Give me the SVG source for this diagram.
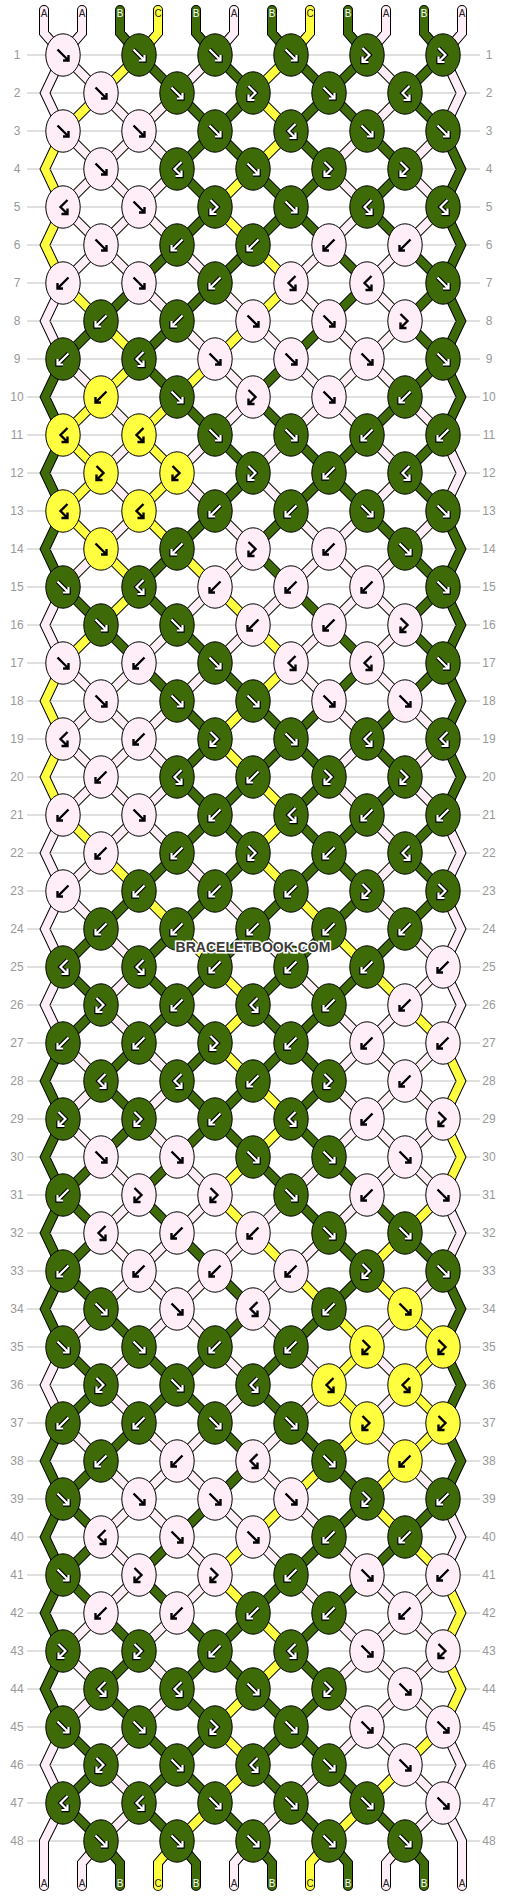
<svg xmlns="http://www.w3.org/2000/svg" width="506" height="1896" viewBox="0 0 506 1896">
<style>
.gl{fill:none;stroke:#c0c0c0;stroke-width:1}
.rn{font-family:"Liberation Sans",Arial,sans-serif;font-size:12px;fill:#999;text-anchor:middle}
.so{fill:none;stroke:#000;stroke-width:10}
.sg,.sp,.sy{fill:none;stroke-width:8}
.sg{stroke:#3f6a08}.sp{stroke:#ffeef8}.sy{stroke:#ffff40}
.eo{fill:none;stroke:#000;stroke-width:10;stroke-linecap:round;stroke-linejoin:miter}
.eg,.ep,.ey{fill:none;stroke-width:8;stroke-linecap:round;stroke-linejoin:miter}
.eg{stroke:#3f6a08}.ep{stroke:#ffeef8}.ey{stroke:#ffff40}
.kg{fill:#3f6a08;stroke:#000;stroke-width:1}
.kp{fill:#ffeef8;stroke:#000;stroke-width:1}
.ky{fill:#ffff40;stroke:#000;stroke-width:1}
.ao{fill:none;stroke:#000;stroke-width:4.4}
.aw{fill:none;stroke:#fff;stroke-width:2.2}
.ab{fill:none;stroke:#000;stroke-width:2.4}
.lb{font-family:"Liberation Sans",Arial,sans-serif;font-size:10px;text-anchor:middle}
.lw{fill:#fff}.lk{fill:#222}
.wm{font-family:"Liberation Sans",Arial,sans-serif;font-size:14px;font-weight:bold;fill:#3a3a3a;stroke:#fff;stroke-width:3;paint-order:stroke;text-anchor:middle}
</style>
<defs>
<clipPath id="cl"><rect x="63" y="55" width="380" height="1786"/></clipPath>
<path id="lat" d="M0-312l506 506m-506-430l506 506m-506-430l506 506m-506-430l506 506m-506-430l506 506m-506-430l506 506m-506-430l506 506m-506-430l506 506m-506-430l506 506m-506-430l506 506m-506-430l506 506m-506-430l506 506m-506-430l506 506m-506-430l506 506m-506-430l506 506m-506-430l506 506m-506-430l506 506m-506-430l506 506m-506-430l506 506m-506-430l506 506m-506-430l506 506m-506-430l506 506m-506-430l506 506m-506-430l506 506m-506-430l506 506m-506-430l506 506m-506-430l506 506m-506-430l506 506M0 194l506-506m-506 582l506-506m-506 582l506-506m-506 582l506-506m-506 582l506-506m-506 582l506-506m-506 582l506-506m-506 582l506-506m-506 582l506-506m-506 582l506-506m-506 582l506-506m-506 582l506-506m-506 582l506-506m-506 582l506-506m-506 582l506-506m-506 582l506-506m-506 582l506-506m-506 582l506-506m-506 582l506-506m-506 582l506-506m-506 582l506-506m-506 582l506-506m-506 582l506-506m-506 582l506-506m-506 582l506-506m-506 582l506-506m-506 582l506-506m-506 582l506-506"/>
<path id="aF" d="M-5.5-5.5L5.5 5.5M0 5.5H5.5V0"/>
<path id="aB" d="M5.5-5.5L-5.5 5.5M0 5.5H-5.5V0"/>
<path id="aFB" d="M-4.5-7L2.5 0L-4.5 7M-4.5 1.5V7H1.5"/>
<path id="aBF" d="M4.5-7L-2.5 0L4.5 7M4.5 1.5V7H-1.5"/>
<g id="gF"><ellipse class="kg" rx="17.2" ry="21.2"/><use href="#aF" class="ao"/><use href="#aF" class="aw"/></g>
<g id="gB"><ellipse class="kg" rx="17.2" ry="21.2"/><use href="#aB" class="ao"/><use href="#aB" class="aw"/></g>
<g id="gFB"><ellipse class="kg" rx="17.2" ry="21.2"/><use href="#aFB" class="ao"/><use href="#aFB" class="aw"/></g>
<g id="gBF"><ellipse class="kg" rx="17.2" ry="21.2"/><use href="#aBF" class="ao"/><use href="#aBF" class="aw"/></g>
<g id="pF"><ellipse class="kp" rx="17.2" ry="21.2"/><use href="#aF" class="ab"/></g>
<g id="pB"><ellipse class="kp" rx="17.2" ry="21.2"/><use href="#aB" class="ab"/></g>
<g id="pFB"><ellipse class="kp" rx="17.2" ry="21.2"/><use href="#aFB" class="ab"/></g>
<g id="pBF"><ellipse class="kp" rx="17.2" ry="21.2"/><use href="#aBF" class="ab"/></g>
<g id="yF"><ellipse class="ky" rx="17.2" ry="21.2"/><use href="#aF" class="ab"/></g>
<g id="yB"><ellipse class="ky" rx="17.2" ry="21.2"/><use href="#aB" class="ab"/></g>
<g id="yFB"><ellipse class="ky" rx="17.2" ry="21.2"/><use href="#aFB" class="ab"/></g>
<g id="yBF"><ellipse class="ky" rx="17.2" ry="21.2"/><use href="#aBF" class="ab"/></g>
</defs>
<rect width="506" height="1896" fill="#fff"/>
<g id="grid">
<path class="gl" d="M27 55h453m-453 38h453m-453 38h453m-453 38h453m-453 38h453m-453 38h453m-453 38h453m-453 38h453m-453 38h453m-453 38h453m-453 38h453m-453 38h453m-453 38h453m-453 38h453m-453 38h453m-453 38h453m-453 38h453m-453 38h453m-453 38h453m-453 38h453m-453 38h453m-453 38h453m-453 38h453m-453 38h453m-453 38h453m-453 38h453m-453 38h453m-453 38h453m-453 38h453m-453 38h453m-453 38h453m-453 38h453m-453 38h453m-453 38h453m-453 38h453m-453 38h453m-453 38h453m-453 38h453m-453 38h453m-453 38h453m-453 38h453m-453 38h453m-453 38h453m-453 38h453m-453 38h453m-453 38h453m-453 38h453m-453 38h453"/>
<text class="rn"><tspan x="17" y="59">1</tspan><tspan x="17" y="97">2</tspan><tspan x="17" y="135">3</tspan><tspan x="17" y="173">4</tspan><tspan x="17" y="211">5</tspan><tspan x="17" y="249">6</tspan><tspan x="17" y="287">7</tspan><tspan x="17" y="325">8</tspan><tspan x="17" y="363">9</tspan><tspan x="17" y="401">10</tspan><tspan x="17" y="439">11</tspan><tspan x="17" y="477">12</tspan><tspan x="17" y="515">13</tspan><tspan x="17" y="553">14</tspan><tspan x="17" y="591">15</tspan><tspan x="17" y="629">16</tspan><tspan x="17" y="667">17</tspan><tspan x="17" y="705">18</tspan><tspan x="17" y="743">19</tspan><tspan x="17" y="781">20</tspan><tspan x="17" y="819">21</tspan><tspan x="17" y="857">22</tspan><tspan x="17" y="895">23</tspan><tspan x="17" y="933">24</tspan><tspan x="17" y="971">25</tspan><tspan x="17" y="1009">26</tspan><tspan x="17" y="1047">27</tspan><tspan x="17" y="1085">28</tspan><tspan x="17" y="1123">29</tspan><tspan x="17" y="1161">30</tspan><tspan x="17" y="1199">31</tspan><tspan x="17" y="1237">32</tspan><tspan x="17" y="1275">33</tspan><tspan x="17" y="1313">34</tspan><tspan x="17" y="1351">35</tspan><tspan x="17" y="1389">36</tspan><tspan x="17" y="1427">37</tspan><tspan x="17" y="1465">38</tspan><tspan x="17" y="1503">39</tspan><tspan x="17" y="1541">40</tspan><tspan x="17" y="1579">41</tspan><tspan x="17" y="1617">42</tspan><tspan x="17" y="1655">43</tspan><tspan x="17" y="1693">44</tspan><tspan x="17" y="1731">45</tspan><tspan x="17" y="1769">46</tspan><tspan x="17" y="1807">47</tspan><tspan x="17" y="1845">48</tspan></text>
<text class="rn"><tspan x="489" y="59">1</tspan><tspan x="489" y="97">2</tspan><tspan x="489" y="135">3</tspan><tspan x="489" y="173">4</tspan><tspan x="489" y="211">5</tspan><tspan x="489" y="249">6</tspan><tspan x="489" y="287">7</tspan><tspan x="489" y="325">8</tspan><tspan x="489" y="363">9</tspan><tspan x="489" y="401">10</tspan><tspan x="489" y="439">11</tspan><tspan x="489" y="477">12</tspan><tspan x="489" y="515">13</tspan><tspan x="489" y="553">14</tspan><tspan x="489" y="591">15</tspan><tspan x="489" y="629">16</tspan><tspan x="489" y="667">17</tspan><tspan x="489" y="705">18</tspan><tspan x="489" y="743">19</tspan><tspan x="489" y="781">20</tspan><tspan x="489" y="819">21</tspan><tspan x="489" y="857">22</tspan><tspan x="489" y="895">23</tspan><tspan x="489" y="933">24</tspan><tspan x="489" y="971">25</tspan><tspan x="489" y="1009">26</tspan><tspan x="489" y="1047">27</tspan><tspan x="489" y="1085">28</tspan><tspan x="489" y="1123">29</tspan><tspan x="489" y="1161">30</tspan><tspan x="489" y="1199">31</tspan><tspan x="489" y="1237">32</tspan><tspan x="489" y="1275">33</tspan><tspan x="489" y="1313">34</tspan><tspan x="489" y="1351">35</tspan><tspan x="489" y="1389">36</tspan><tspan x="489" y="1427">37</tspan><tspan x="489" y="1465">38</tspan><tspan x="489" y="1503">39</tspan><tspan x="489" y="1541">40</tspan><tspan x="489" y="1579">41</tspan><tspan x="489" y="1617">42</tspan><tspan x="489" y="1655">43</tspan><tspan x="489" y="1693">44</tspan><tspan x="489" y="1731">45</tspan><tspan x="489" y="1769">46</tspan><tspan x="489" y="1807">47</tspan><tspan x="489" y="1845">48</tspan></text>
</g>
<g id="connectors">
<g clip-path="url(#cl)">
<use href="#lat" class="so"/>
<use href="#lat" class="sg"/>
</g>
<path class="sp" d="M63 55l38 38M215 55l-38 38M367 55l38 38M101 93l38 38M177 93l-38 38M405 93l-38 38M63 131l38 38M139 131l-38 38M139 131l38 38M367 131l-38 38M443 131l-38 38M101 169l-38 38M101 169l38 38M177 169l-38 38M329 169l38 38M405 169l38 38M63 207l38 38M139 207l-38 38M139 207l38 38M367 207l-38 38M443 207l-38 38M101 245l-38 38M101 245l38 38M177 245l38 38M329 245l-38 38M405 245l-38 38M139 283l38 38M215 283l38 38M291 283l38 38M367 283l38 38M177 321l38 38M253 321l38 38M329 321l38 38M405 321l-38 38M63 359l38 38M215 359l38 38M291 359l38 38M367 359l-38 38M367 359l38 38M101 397l38 38M253 397l-38 38M329 397l-38 38M329 397l38 38M405 397l38 38M139 435l-38 38M215 435l-38 38M291 435l-38 38M367 435l38 38M101 473l38 38M177 473l38 38M253 473l38 38M405 473l-38 38M139 511l-38 38M215 511l38 38M291 511l38 38M367 511l-38 38M443 511l-38 38M101 549l-38 38M253 549l-38 38M329 549l-38 38M329 549l38 38M405 549l-38 38M215 587l-38 38M291 587l-38 38M367 587l-38 38M367 587l38 38M177 625l-38 38M253 625l-38 38M329 625l-38 38M405 625l-38 38M63 663l38 38M139 663l-38 38M215 663l-38 38M291 663l38 38M367 663l38 38M101 701l-38 38M101 701l38 38M177 701l-38 38M329 701l38 38M405 701l38 38M63 739l38 38M139 739l-38 38M139 739l38 38M367 739l-38 38M443 739l-38 38M101 777l-38 38M101 777l38 38M177 777l-38 38M329 777l38 38M405 777l38 38M139 815l-38 38M139 815l38 38M367 815l38 38M101 853l-38 38M177 853l38 38M405 853l-38 38M63 891l38 38M215 891l38 38M367 891l38 38M101 929l38 38M253 929l38 38M405 929l38 38M139 967l-38 38M291 967l38 38M443 967l-38 38M101 1005l38 38M329 1005l38 38M405 1005l-38 38M63 1043l38 38M139 1043l38 38M367 1043l-38 38M367 1043l38 38M443 1043l-38 38M101 1081l-38 38M177 1081l-38 38M329 1081l38 38M405 1081l-38 38M405 1081l38 38M63 1119l38 38M139 1119l38 38M367 1119l-38 38M367 1119l38 38M443 1119l-38 38M101 1157l38 38M177 1157l38 38M329 1157l-38 38M405 1157l-38 38M405 1157l38 38M139 1195l-38 38M215 1195l-38 38M291 1195l-38 38M367 1195l-38 38M101 1233l38 38M177 1233l-38 38M253 1233l-38 38M329 1233l-38 38M139 1271l-38 38M139 1271l38 38M215 1271l-38 38M291 1271l-38 38M443 1271l-38 38M101 1309l-38 38M177 1309l-38 38M177 1309l38 38M253 1309l38 38M405 1309l-38 38M139 1347l-38 38M215 1347l38 38M291 1347l38 38M367 1347l38 38M101 1385l38 38M253 1385l-38 38M329 1385l-38 38M405 1385l-38 38M63 1423l38 38M139 1423l38 38M215 1423l-38 38M291 1423l-38 38M367 1423l38 38M101 1461l38 38M177 1461l-38 38M177 1461l38 38M253 1461l38 38M405 1461l38 38M139 1499l-38 38M139 1499l38 38M215 1499l38 38M291 1499l38 38M101 1537l38 38M177 1537l38 38M253 1537l38 38M329 1537l38 38M139 1575l-38 38M215 1575l-38 38M291 1575l38 38M367 1575l38 38M443 1575l-38 38M101 1613l-38 38M177 1613l-38 38M329 1613l38 38M405 1613l-38 38M405 1613l38 38M63 1651l38 38M139 1651l38 38M367 1651l-38 38M367 1651l38 38M443 1651l-38 38M101 1689l-38 38M177 1689l-38 38M329 1689l38 38M405 1689l-38 38M405 1689l38 38M139 1727l-38 38M367 1727l-38 38M367 1727l38 38M101 1765l38 38M329 1765l-38 38M405 1765l38 38M139 1803l-38 38M291 1803l-38 38M443 1803l-38 38"/>
<path class="sy" d="M139 55l-38 38M291 55l-38 38M101 93l-38 38M253 93l38 38M291 131l-38 38M253 169l-38 38M215 207l38 38M253 245l38 38M63 283l38 38M291 283l-38 38M101 321l38 38M253 321l-38 38M139 359l-38 38M215 359l-38 38M101 397l-38 38M177 397l-38 38M63 435l38 38M139 435l38 38M101 473l-38 38M177 473l-38 38M63 511l38 38M139 511l38 38M101 549l38 38M177 549l38 38M139 587l-38 38M215 587l38 38M101 625l-38 38M253 625l38 38M291 663l-38 38M253 701l-38 38M215 739l38 38M253 777l38 38M63 815l38 38M291 815l-38 38M101 853l38 38M253 853l38 38M139 891l38 38M291 891l38 38M177 929l38 38M329 929l38 38M215 967l38 38M367 967l38 38M253 1005l-38 38M405 1005l38 38M215 1043l38 38M253 1081l38 38M291 1119l-38 38M253 1157l-38 38M215 1195l38 38M443 1195l-38 38M253 1233l38 38M405 1233l-38 38M291 1271l38 38M367 1271l38 38M329 1309l38 38M405 1309l38 38M367 1347l-38 38M443 1347l-38 38M329 1385l38 38M405 1385l38 38M367 1423l-38 38M443 1423l-38 38M329 1461l-38 38M405 1461l-38 38M291 1499l-38 38M367 1499l38 38M253 1537l-38 38M405 1537l38 38M215 1575l38 38M253 1613l38 38M291 1651l-38 38M253 1689l-38 38M215 1727l38 38M443 1727l-38 38M253 1765l-38 38M405 1765l-38 38M215 1803l-38 38M367 1803l-38 38"/>
<path class="eo" d="M44 10V33L63 55L45 93L63 131L45 169L63 207L45 245L63 283L45 321L63 359L45 397L63 435L45 473L63 511L45 549L63 587L45 625L63 663L45 701L63 739L45 777L63 815L45 853L63 891L45 929L63 967L45 1005L63 1043L45 1081L63 1119L45 1157L63 1195L45 1233L63 1271L45 1309L63 1347L45 1385L63 1423L45 1461L63 1499L45 1537L63 1575L45 1613L63 1651L45 1689L63 1727L45 1765L63 1803L44 1841V1886M462 10V33L443 55L461 93L443 131L461 169L443 207L461 245L443 283L461 321L443 359L461 397L443 435L461 473L443 511L461 549L443 587L461 625L443 663L461 701L443 739L461 777L443 815L461 853L443 891L461 929L443 967L461 1005L443 1043L461 1081L443 1119L461 1157L443 1195L461 1233L443 1271L461 1309L443 1347L461 1385L443 1423L461 1461L443 1499L461 1537L443 1575L461 1613L443 1651L461 1689L443 1727L461 1765L443 1803L462 1841V1886M82 10V33L63 55M120 10V33L139 55M158 10V33L139 55M196 10V33L215 55M234 10V33L215 55M272 10V33L291 55M310 10V33L291 55M348 10V33L367 55M386 10V33L367 55M424 10V33L443 55M101 1841L82 1863V1886M101 1841L120 1863V1886M177 1841L158 1863V1886M177 1841L196 1863V1886M253 1841L234 1863V1886M253 1841L272 1863V1886M329 1841L310 1863V1886M329 1841L348 1863V1886M405 1841L386 1863V1886M405 1841L424 1863V1886"/>
<path class="ep" d="M44 10V33L63 55L45 93L63 131M63 283L45 321L63 359M63 587L45 625L63 663M63 815L45 853L63 891L45 929L63 967L45 1005L63 1043M63 1347L45 1385L63 1423M63 1727L45 1765L63 1803L44 1841V1886M462 10V33L443 55L461 93L443 131M443 435L461 473L443 511M443 815L461 853L443 891L461 929L443 967L461 1005L443 1043M443 1195L461 1233L443 1271M443 1499L461 1537L443 1575M443 1727L461 1765L443 1803L462 1841V1886M82 10V33L63 55M234 10V33L215 55M386 10V33L367 55M101 1841L82 1863V1886M253 1841L234 1863V1886M405 1841L386 1863V1886"/>
<path class="ey" d="M63 131L45 169L63 207L45 245L63 283M63 663L45 701L63 739L45 777L63 815M443 1043L461 1081L443 1119L461 1157L443 1195M443 1575L461 1613L443 1651L461 1689L443 1727M158 10V33L139 55M310 10V33L291 55M177 1841L158 1863V1886M329 1841L310 1863V1886"/>
<path class="eg" d="M63 359L45 397L63 435L45 473L63 511L45 549L63 587M63 1043L45 1081L63 1119L45 1157L63 1195L45 1233L63 1271L45 1309L63 1347M63 1423L45 1461L63 1499L45 1537L63 1575L45 1613L63 1651L45 1689L63 1727M443 131L461 169L443 207L461 245L443 283L461 321L443 359L461 397L443 435M443 511L461 549L443 587L461 625L443 663L461 701L443 739L461 777L443 815M443 1271L461 1309L443 1347L461 1385L443 1423L461 1461L443 1499M120 10V33L139 55M196 10V33L215 55M272 10V33L291 55M348 10V33L367 55M424 10V33L443 55M101 1841L120 1863V1886M177 1841L196 1863V1886M253 1841L272 1863V1886M329 1841L348 1863V1886M405 1841L424 1863V1886"/>
</g>
<g id="labels" class="lb">
<text class="lk" x="44" y="16.5">A</text><text class="lk" x="82" y="16.5">A</text><text class="lw" x="120" y="16.5">B</text><text class="lk" x="158" y="16.5">C</text><text class="lw" x="196" y="16.5">B</text><text class="lk" x="234" y="16.5">A</text><text class="lw" x="272" y="16.5">B</text><text class="lk" x="310" y="16.5">C</text><text class="lw" x="348" y="16.5">B</text><text class="lk" x="386" y="16.5">A</text><text class="lw" x="424" y="16.5">B</text><text class="lk" x="462" y="16.5">A</text>
<text class="lk" x="44" y="1887">A</text><text class="lk" x="82" y="1887">A</text><text class="lw" x="120" y="1887">B</text><text class="lk" x="158" y="1887">C</text><text class="lw" x="196" y="1887">B</text><text class="lk" x="234" y="1887">A</text><text class="lw" x="272" y="1887">B</text><text class="lk" x="310" y="1887">C</text><text class="lw" x="348" y="1887">B</text><text class="lk" x="386" y="1887">A</text><text class="lw" x="424" y="1887">B</text><text class="lk" x="462" y="1887">A</text>
</g>
<g id="knots">
<g id="k1-1"><use href="#pF" x="63" y="55"/></g><g id="k1-2"><use href="#gF" x="139" y="55"/></g><g id="k1-3"><use href="#gF" x="215" y="55"/></g><g id="k1-4"><use href="#gF" x="291" y="55"/></g><g id="k1-5"><use href="#gFB" x="367" y="55"/></g><g id="k1-6"><use href="#gFB" x="443" y="55"/></g>
<g id="k2-1"><use href="#pF" x="101" y="93"/></g><g id="k2-2"><use href="#gF" x="177" y="93"/></g><g id="k2-3"><use href="#gFB" x="253" y="93"/></g><g id="k2-4"><use href="#gF" x="329" y="93"/></g><g id="k2-5"><use href="#gBF" x="405" y="93"/></g>
<g id="k3-1"><use href="#pF" x="63" y="131"/></g><g id="k3-2"><use href="#pF" x="139" y="131"/></g><g id="k3-3"><use href="#gF" x="215" y="131"/></g><g id="k3-4"><use href="#gBF" x="291" y="131"/></g><g id="k3-5"><use href="#gF" x="367" y="131"/></g><g id="k3-6"><use href="#gF" x="443" y="131"/></g>
<g id="k4-1"><use href="#pF" x="101" y="169"/></g><g id="k4-2"><use href="#gBF" x="177" y="169"/></g><g id="k4-3"><use href="#gF" x="253" y="169"/></g><g id="k4-4"><use href="#gFB" x="329" y="169"/></g><g id="k4-5"><use href="#gFB" x="405" y="169"/></g>
<g id="k5-1"><use href="#pBF" x="63" y="207"/></g><g id="k5-2"><use href="#pF" x="139" y="207"/></g><g id="k5-3"><use href="#gFB" x="215" y="207"/></g><g id="k5-4"><use href="#gF" x="291" y="207"/></g><g id="k5-5"><use href="#gBF" x="367" y="207"/></g><g id="k5-6"><use href="#gBF" x="443" y="207"/></g>
<g id="k6-1"><use href="#pF" x="101" y="245"/></g><g id="k6-2"><use href="#gB" x="177" y="245"/></g><g id="k6-3"><use href="#gB" x="253" y="245"/></g><g id="k6-4"><use href="#pB" x="329" y="245"/></g><g id="k6-5"><use href="#pB" x="405" y="245"/></g>
<g id="k7-1"><use href="#pB" x="63" y="283"/></g><g id="k7-2"><use href="#pF" x="139" y="283"/></g><g id="k7-3"><use href="#gB" x="215" y="283"/></g><g id="k7-4"><use href="#pBF" x="291" y="283"/></g><g id="k7-5"><use href="#pBF" x="367" y="283"/></g><g id="k7-6"><use href="#gF" x="443" y="283"/></g>
<g id="k8-1"><use href="#gB" x="101" y="321"/></g><g id="k8-2"><use href="#gB" x="177" y="321"/></g><g id="k8-3"><use href="#pF" x="253" y="321"/></g><g id="k8-4"><use href="#pF" x="329" y="321"/></g><g id="k8-5"><use href="#pFB" x="405" y="321"/></g>
<g id="k9-1"><use href="#gB" x="63" y="359"/></g><g id="k9-2"><use href="#gBF" x="139" y="359"/></g><g id="k9-3"><use href="#pF" x="215" y="359"/></g><g id="k9-4"><use href="#pF" x="291" y="359"/></g><g id="k9-5"><use href="#pF" x="367" y="359"/></g><g id="k9-6"><use href="#gF" x="443" y="359"/></g>
<g id="k10-1"><use href="#yB" x="101" y="397"/></g><g id="k10-2"><use href="#gF" x="177" y="397"/></g><g id="k10-3"><use href="#pFB" x="253" y="397"/></g><g id="k10-4"><use href="#pF" x="329" y="397"/></g><g id="k10-5"><use href="#gB" x="405" y="397"/></g>
<g id="k11-1"><use href="#yBF" x="63" y="435"/></g><g id="k11-2"><use href="#yBF" x="139" y="435"/></g><g id="k11-3"><use href="#gF" x="215" y="435"/></g><g id="k11-4"><use href="#gF" x="291" y="435"/></g><g id="k11-5"><use href="#gB" x="367" y="435"/></g><g id="k11-6"><use href="#gB" x="443" y="435"/></g>
<g id="k12-1"><use href="#yFB" x="101" y="473"/></g><g id="k12-2"><use href="#yFB" x="177" y="473"/></g><g id="k12-3"><use href="#gFB" x="253" y="473"/></g><g id="k12-4"><use href="#gB" x="329" y="473"/></g><g id="k12-5"><use href="#gBF" x="405" y="473"/></g>
<g id="k13-1"><use href="#yBF" x="63" y="511"/></g><g id="k13-2"><use href="#yBF" x="139" y="511"/></g><g id="k13-3"><use href="#gB" x="215" y="511"/></g><g id="k13-4"><use href="#gB" x="291" y="511"/></g><g id="k13-5"><use href="#gF" x="367" y="511"/></g><g id="k13-6"><use href="#gF" x="443" y="511"/></g>
<g id="k14-1"><use href="#yF" x="101" y="549"/></g><g id="k14-2"><use href="#gB" x="177" y="549"/></g><g id="k14-3"><use href="#pFB" x="253" y="549"/></g><g id="k14-4"><use href="#pB" x="329" y="549"/></g><g id="k14-5"><use href="#gF" x="405" y="549"/></g>
<g id="k15-1"><use href="#gF" x="63" y="587"/></g><g id="k15-2"><use href="#gBF" x="139" y="587"/></g><g id="k15-3"><use href="#pB" x="215" y="587"/></g><g id="k15-4"><use href="#pB" x="291" y="587"/></g><g id="k15-5"><use href="#pB" x="367" y="587"/></g><g id="k15-6"><use href="#gF" x="443" y="587"/></g>
<g id="k16-1"><use href="#gF" x="101" y="625"/></g><g id="k16-2"><use href="#gF" x="177" y="625"/></g><g id="k16-3"><use href="#pB" x="253" y="625"/></g><g id="k16-4"><use href="#pB" x="329" y="625"/></g><g id="k16-5"><use href="#pFB" x="405" y="625"/></g>
<g id="k17-1"><use href="#pF" x="63" y="663"/></g><g id="k17-2"><use href="#pB" x="139" y="663"/></g><g id="k17-3"><use href="#gF" x="215" y="663"/></g><g id="k17-4"><use href="#pBF" x="291" y="663"/></g><g id="k17-5"><use href="#pBF" x="367" y="663"/></g><g id="k17-6"><use href="#gF" x="443" y="663"/></g>
<g id="k18-1"><use href="#pF" x="101" y="701"/></g><g id="k18-2"><use href="#gF" x="177" y="701"/></g><g id="k18-3"><use href="#gF" x="253" y="701"/></g><g id="k18-4"><use href="#pF" x="329" y="701"/></g><g id="k18-5"><use href="#pF" x="405" y="701"/></g>
<g id="k19-1"><use href="#pBF" x="63" y="739"/></g><g id="k19-2"><use href="#pB" x="139" y="739"/></g><g id="k19-3"><use href="#gFB" x="215" y="739"/></g><g id="k19-4"><use href="#gF" x="291" y="739"/></g><g id="k19-5"><use href="#gBF" x="367" y="739"/></g><g id="k19-6"><use href="#gBF" x="443" y="739"/></g>
<g id="k20-1"><use href="#pB" x="101" y="777"/></g><g id="k20-2"><use href="#gBF" x="177" y="777"/></g><g id="k20-3"><use href="#gB" x="253" y="777"/></g><g id="k20-4"><use href="#gFB" x="329" y="777"/></g><g id="k20-5"><use href="#gFB" x="405" y="777"/></g>
<g id="k21-1"><use href="#pB" x="63" y="815"/></g><g id="k21-2"><use href="#pF" x="139" y="815"/></g><g id="k21-3"><use href="#gB" x="215" y="815"/></g><g id="k21-4"><use href="#gBF" x="291" y="815"/></g><g id="k21-5"><use href="#gB" x="367" y="815"/></g><g id="k21-6"><use href="#gB" x="443" y="815"/></g>
<g id="k22-1"><use href="#pB" x="101" y="853"/></g><g id="k22-2"><use href="#gB" x="177" y="853"/></g><g id="k22-3"><use href="#gFB" x="253" y="853"/></g><g id="k22-4"><use href="#gB" x="329" y="853"/></g><g id="k22-5"><use href="#gBF" x="405" y="853"/></g>
<g id="k23-1"><use href="#pB" x="63" y="891"/></g><g id="k23-2"><use href="#gB" x="139" y="891"/></g><g id="k23-3"><use href="#gB" x="215" y="891"/></g><g id="k23-4"><use href="#gB" x="291" y="891"/></g><g id="k23-5"><use href="#gFB" x="367" y="891"/></g><g id="k23-6"><use href="#gFB" x="443" y="891"/></g>
<g id="k24-1"><use href="#gB" x="101" y="929"/></g><g id="k24-2"><use href="#gB" x="177" y="929"/></g><g id="k24-3"><use href="#gB" x="253" y="929"/></g><g id="k24-4"><use href="#gB" x="329" y="929"/></g><g id="k24-5"><use href="#gB" x="405" y="929"/></g>
<g id="k25-1"><use href="#gBF" x="63" y="967"/></g><g id="k25-2"><use href="#gBF" x="139" y="967"/></g><g id="k25-3"><use href="#gB" x="215" y="967"/></g><g id="k25-4"><use href="#gB" x="291" y="967"/></g><g id="k25-5"><use href="#gB" x="367" y="967"/></g><g id="k25-6"><use href="#pB" x="443" y="967"/></g>
<g id="k26-1"><use href="#gFB" x="101" y="1005"/></g><g id="k26-2"><use href="#gB" x="177" y="1005"/></g><g id="k26-3"><use href="#gBF" x="253" y="1005"/></g><g id="k26-4"><use href="#gB" x="329" y="1005"/></g><g id="k26-5"><use href="#pB" x="405" y="1005"/></g>
<g id="k27-1"><use href="#gB" x="63" y="1043"/></g><g id="k27-2"><use href="#gB" x="139" y="1043"/></g><g id="k27-3"><use href="#gFB" x="215" y="1043"/></g><g id="k27-4"><use href="#gB" x="291" y="1043"/></g><g id="k27-5"><use href="#pB" x="367" y="1043"/></g><g id="k27-6"><use href="#pB" x="443" y="1043"/></g>
<g id="k28-1"><use href="#gBF" x="101" y="1081"/></g><g id="k28-2"><use href="#gBF" x="177" y="1081"/></g><g id="k28-3"><use href="#gB" x="253" y="1081"/></g><g id="k28-4"><use href="#gFB" x="329" y="1081"/></g><g id="k28-5"><use href="#pB" x="405" y="1081"/></g>
<g id="k29-1"><use href="#gFB" x="63" y="1119"/></g><g id="k29-2"><use href="#gFB" x="139" y="1119"/></g><g id="k29-3"><use href="#gB" x="215" y="1119"/></g><g id="k29-4"><use href="#gBF" x="291" y="1119"/></g><g id="k29-5"><use href="#pB" x="367" y="1119"/></g><g id="k29-6"><use href="#pFB" x="443" y="1119"/></g>
<g id="k30-1"><use href="#pF" x="101" y="1157"/></g><g id="k30-2"><use href="#pF" x="177" y="1157"/></g><g id="k30-3"><use href="#gF" x="253" y="1157"/></g><g id="k30-4"><use href="#gF" x="329" y="1157"/></g><g id="k30-5"><use href="#pF" x="405" y="1157"/></g>
<g id="k31-1"><use href="#gB" x="63" y="1195"/></g><g id="k31-2"><use href="#pFB" x="139" y="1195"/></g><g id="k31-3"><use href="#pFB" x="215" y="1195"/></g><g id="k31-4"><use href="#gF" x="291" y="1195"/></g><g id="k31-5"><use href="#pB" x="367" y="1195"/></g><g id="k31-6"><use href="#pF" x="443" y="1195"/></g>
<g id="k32-1"><use href="#pBF" x="101" y="1233"/></g><g id="k32-2"><use href="#pB" x="177" y="1233"/></g><g id="k32-3"><use href="#pB" x="253" y="1233"/></g><g id="k32-4"><use href="#gF" x="329" y="1233"/></g><g id="k32-5"><use href="#gF" x="405" y="1233"/></g>
<g id="k33-1"><use href="#gB" x="63" y="1271"/></g><g id="k33-2"><use href="#pB" x="139" y="1271"/></g><g id="k33-3"><use href="#pB" x="215" y="1271"/></g><g id="k33-4"><use href="#pB" x="291" y="1271"/></g><g id="k33-5"><use href="#gFB" x="367" y="1271"/></g><g id="k33-6"><use href="#gF" x="443" y="1271"/></g>
<g id="k34-1"><use href="#gF" x="101" y="1309"/></g><g id="k34-2"><use href="#pF" x="177" y="1309"/></g><g id="k34-3"><use href="#pBF" x="253" y="1309"/></g><g id="k34-4"><use href="#gB" x="329" y="1309"/></g><g id="k34-5"><use href="#yF" x="405" y="1309"/></g>
<g id="k35-1"><use href="#gF" x="63" y="1347"/></g><g id="k35-2"><use href="#gF" x="139" y="1347"/></g><g id="k35-3"><use href="#gB" x="215" y="1347"/></g><g id="k35-4"><use href="#gB" x="291" y="1347"/></g><g id="k35-5"><use href="#yFB" x="367" y="1347"/></g><g id="k35-6"><use href="#yFB" x="443" y="1347"/></g>
<g id="k36-1"><use href="#gFB" x="101" y="1385"/></g><g id="k36-2"><use href="#gF" x="177" y="1385"/></g><g id="k36-3"><use href="#gBF" x="253" y="1385"/></g><g id="k36-4"><use href="#yBF" x="329" y="1385"/></g><g id="k36-5"><use href="#yBF" x="405" y="1385"/></g>
<g id="k37-1"><use href="#gB" x="63" y="1423"/></g><g id="k37-2"><use href="#gB" x="139" y="1423"/></g><g id="k37-3"><use href="#gF" x="215" y="1423"/></g><g id="k37-4"><use href="#gF" x="291" y="1423"/></g><g id="k37-5"><use href="#yFB" x="367" y="1423"/></g><g id="k37-6"><use href="#yFB" x="443" y="1423"/></g>
<g id="k38-1"><use href="#gB" x="101" y="1461"/></g><g id="k38-2"><use href="#pB" x="177" y="1461"/></g><g id="k38-3"><use href="#pBF" x="253" y="1461"/></g><g id="k38-4"><use href="#gF" x="329" y="1461"/></g><g id="k38-5"><use href="#yB" x="405" y="1461"/></g>
<g id="k39-1"><use href="#gF" x="63" y="1499"/></g><g id="k39-2"><use href="#pF" x="139" y="1499"/></g><g id="k39-3"><use href="#pF" x="215" y="1499"/></g><g id="k39-4"><use href="#pF" x="291" y="1499"/></g><g id="k39-5"><use href="#gFB" x="367" y="1499"/></g><g id="k39-6"><use href="#gB" x="443" y="1499"/></g>
<g id="k40-1"><use href="#pBF" x="101" y="1537"/></g><g id="k40-2"><use href="#pF" x="177" y="1537"/></g><g id="k40-3"><use href="#pF" x="253" y="1537"/></g><g id="k40-4"><use href="#gB" x="329" y="1537"/></g><g id="k40-5"><use href="#gB" x="405" y="1537"/></g>
<g id="k41-1"><use href="#gF" x="63" y="1575"/></g><g id="k41-2"><use href="#pFB" x="139" y="1575"/></g><g id="k41-3"><use href="#pFB" x="215" y="1575"/></g><g id="k41-4"><use href="#gB" x="291" y="1575"/></g><g id="k41-5"><use href="#pF" x="367" y="1575"/></g><g id="k41-6"><use href="#pB" x="443" y="1575"/></g>
<g id="k42-1"><use href="#pB" x="101" y="1613"/></g><g id="k42-2"><use href="#pB" x="177" y="1613"/></g><g id="k42-3"><use href="#gB" x="253" y="1613"/></g><g id="k42-4"><use href="#gB" x="329" y="1613"/></g><g id="k42-5"><use href="#pB" x="405" y="1613"/></g>
<g id="k43-1"><use href="#gFB" x="63" y="1651"/></g><g id="k43-2"><use href="#gFB" x="139" y="1651"/></g><g id="k43-3"><use href="#gB" x="215" y="1651"/></g><g id="k43-4"><use href="#gBF" x="291" y="1651"/></g><g id="k43-5"><use href="#pF" x="367" y="1651"/></g><g id="k43-6"><use href="#pFB" x="443" y="1651"/></g>
<g id="k44-1"><use href="#gBF" x="101" y="1689"/></g><g id="k44-2"><use href="#gBF" x="177" y="1689"/></g><g id="k44-3"><use href="#gF" x="253" y="1689"/></g><g id="k44-4"><use href="#gFB" x="329" y="1689"/></g><g id="k44-5"><use href="#pF" x="405" y="1689"/></g>
<g id="k45-1"><use href="#gF" x="63" y="1727"/></g><g id="k45-2"><use href="#gF" x="139" y="1727"/></g><g id="k45-3"><use href="#gFB" x="215" y="1727"/></g><g id="k45-4"><use href="#gF" x="291" y="1727"/></g><g id="k45-5"><use href="#pF" x="367" y="1727"/></g><g id="k45-6"><use href="#pF" x="443" y="1727"/></g>
<g id="k46-1"><use href="#gFB" x="101" y="1765"/></g><g id="k46-2"><use href="#gF" x="177" y="1765"/></g><g id="k46-3"><use href="#gBF" x="253" y="1765"/></g><g id="k46-4"><use href="#gF" x="329" y="1765"/></g><g id="k46-5"><use href="#pF" x="405" y="1765"/></g>
<g id="k47-1"><use href="#gBF" x="63" y="1803"/></g><g id="k47-2"><use href="#gBF" x="139" y="1803"/></g><g id="k47-3"><use href="#gF" x="215" y="1803"/></g><g id="k47-4"><use href="#gF" x="291" y="1803"/></g><g id="k47-5"><use href="#gF" x="367" y="1803"/></g><g id="k47-6"><use href="#pF" x="443" y="1803"/></g>
<g id="k48-1"><use href="#gF" x="101" y="1841"/></g><g id="k48-2"><use href="#gF" x="177" y="1841"/></g><g id="k48-3"><use href="#gF" x="253" y="1841"/></g><g id="k48-4"><use href="#gF" x="329" y="1841"/></g><g id="k48-5"><use href="#gF" x="405" y="1841"/></g>
</g>
<g id="watermark"><text class="wm" x="253" y="952">BRACELETBOOK.COM</text></g>
</svg>
